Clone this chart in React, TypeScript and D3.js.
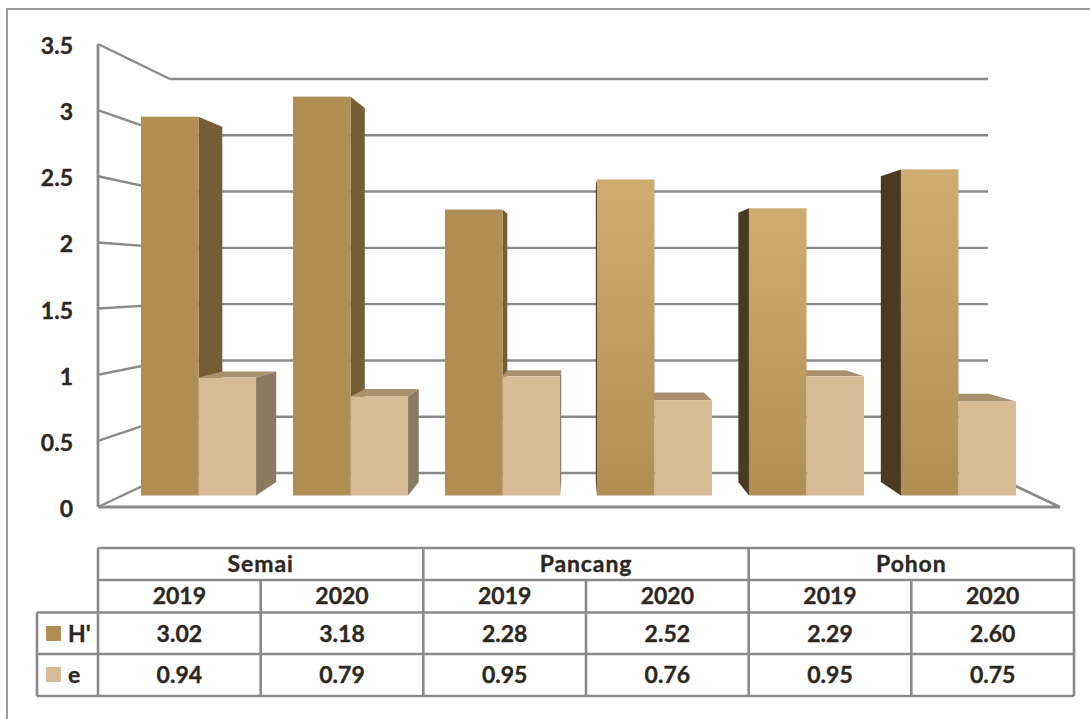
import React from 'react';
import * as d3 from 'd3';

const groups = ['Semai', 'Pancang', 'Pohon'];
const years = ['2019', '2020', '2019', '2020', '2019', '2020'];
const hValues = [3.02, 3.18, 2.28, 2.52, 2.29, 2.6];
const eValues = [0.94, 0.79, 0.95, 0.76, 0.95, 0.75];
const yTicks = [0, 0.5, 1, 1.5, 2, 2.5, 3, 3.5];

const FONT = 'Lato, "Open Sans", sans-serif';
const GRID = '#8a8a8a';
const TEXT = '#2c2720';
const H_FRONT = '#b08d53';
const E_FRONT = '#d6bb96';

// vanishing point of the fake 3D box
const VP: [number, number] = [579, 279];
const DEPTH = 0.0625;

const pt = (x: number, y: number): [number, number] => [
  x + (VP[0] - x) * DEPTH,
  y + (VP[1] - y) * DEPTH,
];
const poly = (p: [number, number][]) => (d3.line()(p) as string) + 'Z';

// axis plane, back wall, and bar plane
const yFront = d3.scaleLinear().domain([0, 3.5]).range([507, 44]);
const yBack = d3.scaleLinear().domain([0, 3.5]).range([473, 79]);
const yBar = d3.scaleLinear().domain([0, 3.5]).range([495.5, 56.5]);

const xBand = d3.scaleBand<number>().domain(d3.range(6)).range([141, 1016]).paddingInner(0.243).paddingOuter(0);
const xCol = d3.scaleBand<number>().domain(d3.range(6)).range([98, 1074]);
const xGroup = d3.scaleBand<string>().domain(groups).range([98, 1074]);

const rowY = [548, 580, 612.5, 654, 696];

const sideFaces = (x0: number, x1: number, value: number, right: string, left: string, top: string, hideLeft = false) => {
  const yt = yBar(value);
  const yb = yBar(0);
  return (
    <>
      {yt > VP[1] && <path d={poly([[x0, yt], [x1, yt], pt(x1, yt), pt(x0, yt)])} fill={top} />}
      {x1 < VP[0] && <path d={poly([[x1, yt], pt(x1, yt), pt(x1, yb), [x1, yb]])} fill={right} />}
      {x0 > VP[0] && !hideLeft && <path d={poly([[x0, yt], pt(x0, yt), pt(x0, yb), [x0, yb]])} fill={left} />}
    </>
  );
};

export default function App() {
  const bw = xBand.bandwidth() / 2;
  const txt = { fontWeight: 700, fill: TEXT, stroke: TEXT, strokeWidth: 0.35 };
  return (
    <svg
      width={1090}
      height={719}
      viewBox="0 0 1090 719"
      style={{ position: 'absolute', left: 0, top: 0, background: '#fff', fontFamily: FONT }}
    >
      <defs>
        <linearGradient id="hGrad" x1="0" y1="0" x2="0" y2="1">
          <stop offset="0" stopColor="#cfac6f" />
          <stop offset="1" stopColor="#b08d53" />
        </linearGradient>
      </defs>

      {/* outer frame */}
      <path d="M7,719 V9 H1090" fill="none" stroke="#9c9c9c" strokeWidth={2} />

      {/* side wall and back wall grid */}
      {yTicks.map(t => (
        <g key={t} stroke={GRID} strokeWidth={2.4} fill="none">
          <line x1={98} y1={yFront(t)} x2={170} y2={yBack(t)} />
          <line x1={170} y1={yBack(t)} x2={988} y2={yBack(t)} />
        </g>
      ))}
      <line x1={98} y1={44} x2={98} y2={507} stroke={GRID} strokeWidth={2.8} />
      <path d="M98,507 H1060 L988,473" fill="none" stroke={GRID} strokeWidth={2.8} />

      {/* bars: side faces of H' first, then e, then the front of H' on top */}
      {hValues.map((v, i) => {
        const x = xBand(i) as number;
        const e = eValues[i];
        return (
          <g key={i}>
            {sideFaces(x, x + bw, v, '#755d35', '#4a3a20', '#8a7040')}
            {sideFaces(x + bw, x + bw * 2, e, '#8a7a62', '#8a7a62', '#a8906f', true)}
            <rect x={x + bw} y={yBar(e)} width={bw} height={yBar(0) - yBar(e)} fill={E_FRONT} />
            <rect
              x={x}
              y={yBar(v)}
              width={bw}
              height={yBar(0) - yBar(v)}
              fill={i > 2 ? 'url(#hGrad)' : H_FRONT}
            />
          </g>
        );
      })}

      {/* y axis labels */}
      {yTicks.map(t => (
        <text key={t} x={73} y={yFront(t) + 10} textAnchor="end" fontSize={23} {...txt}>
          {t}
        </text>
      ))}

      {/* data table */}
      <g stroke={GRID} strokeWidth={2.6} fill="none">
        <line x1={98} y1={rowY[0]} x2={1074} y2={rowY[0]} />
        <line x1={98} y1={rowY[1]} x2={1074} y2={rowY[1]} />
        {rowY.slice(2).map(y => (
          <line key={y} x1={37} y1={y} x2={1074} y2={y} />
        ))}
        <line x1={37} y1={rowY[2]} x2={37} y2={rowY[4]} />
        <line x1={98} y1={rowY[0]} x2={98} y2={rowY[4]} />
        {d3.range(1, 7).map(i => (
          <line
            key={i}
            x1={98 + xCol.step() * i}
            y1={i % 2 === 0 ? rowY[0] : rowY[1]}
            x2={98 + xCol.step() * i}
            y2={rowY[4]}
          />
        ))}
      </g>

      <g fontSize={23} textAnchor="middle" {...txt}>
        {groups.map(g => (
          <text key={g} x={(xGroup(g) as number) + xGroup.bandwidth() / 2} y={572} letterSpacing={0.9}>
            {g}
          </text>
        ))}
        {years.map((y, i) => (
          <text key={i} x={(xCol(i) as number) + xCol.bandwidth() / 2} y={604}>
            {y}
          </text>
        ))}
        {hValues.map((v, i) => (
          <text key={i} x={(xCol(i) as number) + xCol.bandwidth() / 2} y={642}>
            {v.toFixed(2)}
          </text>
        ))}
        {eValues.map((v, i) => (
          <text key={i} x={(xCol(i) as number) + xCol.bandwidth() / 2} y={683}>
            {v.toFixed(2)}
          </text>
        ))}
      </g>

      {/* legend keys in the table */}
      <rect x={46} y={626} width={15} height={15} fill={H_FRONT} />
      <rect x={46} y={667} width={15} height={15} fill={E_FRONT} />
      <text x={68} y={642} fontSize={23} {...txt}>
        H'
      </text>
      <text x={68} y={683} fontSize={23} {...txt}>
        e
      </text>
    </svg>
  );
}
